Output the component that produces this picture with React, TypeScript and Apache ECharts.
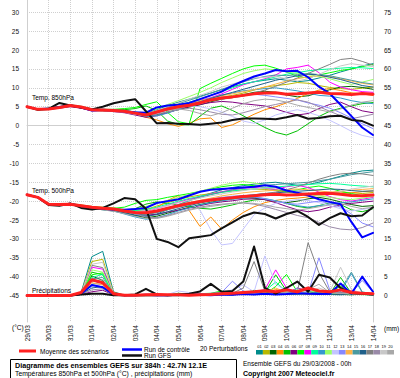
import React, { useEffect, useRef } from 'react';
import * as echarts from 'echarts';

// ---- axes ----
const hours = [0,12,24,36,48,60,72,84,96,108,120,132,144,156,168,180,192,204,216,228,240,252,264,276,288,300,312,324,336,348,360,372,384];
const dateLabels = ['29/03','30/03','31/03','01/04','02/04','03/04','04/04','05/04','06/04','07/04','08/04','09/04','10/04','11/04','12/04','13/04','14/04'];
const leftTicks = [-45,-40,-35,-30,-25,-20,-15,-10,-5,0,5,10,15,20,25,30];
const rightTicks = [0,5,10,15,20,25,30,35,40,45,50,55,60,65,70,75];

// ---- main runs ----
const mean850 = [5.0,4.3,4.4,4.8,5.3,4.9,4.2,4.1,4.0,3.8,3.3,2.8,3.6,4.4,5.0,5.4,6.0,6.8,7.3,7.6,8.0,8.4,8.6,8.7,8.3,8.4,8.6,8.8,8.5,8.4,8.2,8.5,8.3];
const ctrl850 = [5.0,4.3,4.5,4.9,5.4,4.8,4.0,4.2,4.0,3.7,3.5,3.4,4.8,5.3,5.5,6.0,7.0,8.0,9.0,10.6,11.8,13.0,13.8,14.7,14.4,14.5,12.8,10.3,8.5,5.5,2.5,-0.5,-2.5];
const gfs850 = [5.0,4.2,4.4,6.0,5.3,4.8,4.3,5.0,5.9,6.5,7.0,3.8,0.6,0.7,0.5,0.4,0.2,0.5,0.8,1.5,1.9,1.9,1.8,1.7,2.2,2.8,1.8,2.0,2.5,2.6,1.5,1.2,0.0];

const mean500 = [-18.3,-19.0,-20.8,-20.9,-20.8,-21.2,-21.6,-21.9,-22.1,-22.6,-23.0,-23.1,-22.6,-21.9,-21.2,-20.6,-20.1,-19.7,-19.4,-19.1,-18.8,-18.6,-18.3,-18.2,-18.4,-18.3,-18.1,-18.0,-17.9,-18.2,-18.5,-18.6,-18.4];
const ctrl500 = [-18.3,-19.0,-20.9,-21.0,-20.7,-21.3,-21.7,-22.0,-22.2,-22.3,-22.1,-21.8,-20.5,-20.0,-19.5,-18.5,-17.5,-17.0,-16.8,-16.6,-16.4,-16.2,-15.8,-16.2,-17.2,-17.8,-18.5,-19.5,-20.2,-20.8,-25.5,-29.6,-28.4];
const gfs500 = [-18.3,-19.0,-21.0,-21.2,-20.6,-21.8,-22.2,-21.8,-20.6,-19.2,-19.5,-22.0,-30.0,-30.8,-32.2,-29.8,-29.4,-29.0,-27.2,-25.6,-24.0,-23.0,-23.4,-24.6,-23.4,-22.6,-24.2,-26.3,-24.5,-23.2,-24.0,-23.8,-21.6];

const meanPrec = [0,0,0,0,0,0.8,4.2,3.4,0.5,0.1,0.1,0.2,0.3,0.2,0.2,0.1,0.2,0.3,0.5,0.6,0.8,1.0,1.3,1.0,1.5,1.0,2.0,1.2,1.0,1.5,0.8,0.6,0.5];
const ctrlPrec = [0,0,0,0,0,0.5,2.8,2.2,0.3,0.1,0.1,0.2,0.1,0.1,0.2,0.3,0.2,0.1,0.3,0.2,0.4,0.3,0.5,0.3,0.4,0.6,0.5,0.4,0.5,3.2,0.5,5.0,1.0];
const gfsPrec = [0,0,0,0,0,0.3,0.5,0.5,0.1,0.1,0.3,1.8,0.3,0.1,0.2,0.5,1.1,3.1,1.0,1.2,3.7,13.0,2.0,0.5,2.0,3.7,1.0,5.5,4.8,2.0,0.6,0.5,0.3];

// ---- perturbations : 850 hPa ----
const t850_01 = [5.0,4.4,4.6,5.0,5.4,5.0,4.3,4.3,4.2,4.1,3.6,3.2,4.2,5.3,6.2,7.0,7.8,8.6,9.5,10.3,11.0,11.6,12.0,12.4,12.0,11.6,11.9,12.6,13.3,14.2,15.0,15.8,16.4];
const t850_02 = [5.0,4.2,4.3,4.7,5.2,4.7,4.0,3.9,3.8,3.6,3.1,2.6,3.3,4.0,4.6,5.3,6.2,7.0,7.5,8.0,8.6,9.4,10.2,10.6,10.9,11.4,11.2,10.6,10.1,9.8,9.6,9.9,10.2];
const t850_03 = [5.0,4.3,4.5,4.9,5.4,4.9,4.2,4.0,3.9,3.7,3.0,2.4,2.9,3.6,4.2,4.9,5.5,6.3,7.0,7.5,8.2,8.8,9.1,8.8,8.1,7.6,7.9,8.7,9.5,10.2,10.4,10.1,9.6];
const t850_04 = [5.0,4.3,4.5,4.8,5.2,4.8,4.1,4.0,3.9,3.5,3.0,2.2,1.5,0.5,-0.2,0.6,1.8,2.0,-0.5,0.2,1.6,3.0,4.2,5.0,6.0,7.2,8.5,9.4,9.8,9.3,8.7,8.4,8.0];
const t850_05 = [5.0,4.2,4.4,4.7,5.1,4.8,4.1,4.0,4.1,4.2,4.5,5.2,4.0,1.2,0.3,0.2,2.5,4.6,5.2,4.0,2.6,1.0,-0.5,-1.8,-2.5,-1.4,0.5,2.4,3.8,4.6,5.2,5.8,6.1];
const t850_06 = [5.0,4.4,4.3,4.6,5.0,4.6,3.9,3.9,3.7,3.4,2.8,2.2,2.6,3.4,4.3,5.0,5.6,6.1,6.4,6.2,5.8,5.5,5.2,4.4,3.5,2.8,3.2,4.5,5.6,6.2,5.0,3.9,3.4];
const t850_07 = [5.0,4.4,4.6,5.0,5.5,5.1,4.4,4.3,4.3,4.5,4.8,5.6,6.3,3.5,1.0,0.5,9.8,11.2,12.5,13.8,15.0,15.8,16.0,15.2,14.2,13.0,12.6,13.4,14.0,14.6,15.0,15.6,16.2];
const t850_08 = [5.0,4.3,4.4,4.9,5.3,4.9,4.3,4.2,4.1,3.8,3.4,3.0,3.9,4.8,5.5,6.0,6.7,7.4,8.4,9.6,10.8,11.6,12.4,13.4,15.0,15.4,16.0,14.0,11.5,10.2,9.5,9.0,8.8];
const t850_09 = [5.0,4.3,4.5,4.9,5.3,4.9,4.2,4.2,4.1,3.9,3.5,3.1,3.7,4.6,5.4,6.2,7.0,8.0,9.0,10.0,11.0,11.6,12.2,12.9,13.6,14.0,14.5,14.8,15.0,15.2,15.4,15.3,15.1];
const t850_10 = [5.0,4.3,4.4,4.7,5.2,4.8,4.1,4.0,3.9,3.6,3.1,2.4,2.6,3.3,4.3,5.4,6.3,7.3,8.1,8.6,9.2,9.5,9.8,10.0,9.6,9.2,8.6,8.0,7.8,7.3,6.6,6.1,5.8];
const t850_11 = [5.0,4.4,4.5,4.9,5.4,5.0,4.3,4.2,4.1,3.9,3.5,3.4,4.4,5.6,6.6,7.7,8.8,10.0,11.4,12.6,13.8,14.5,15.0,14.8,14.2,13.8,13.5,13.0,12.4,11.6,10.9,11.5,12.2];
const t850_12 = [5.0,4.3,4.4,4.8,5.2,4.8,4.1,4.0,3.8,3.5,3.0,2.6,3.2,4.0,4.8,5.2,5.0,4.4,3.6,2.4,1.2,0.6,1.5,2.8,3.6,4.2,3.5,2.6,1.4,0.0,-1.5,-2.6,-3.2];
const t850_13 = [5.0,4.3,4.4,4.8,5.3,4.9,4.2,4.1,4.0,3.8,3.2,2.7,3.5,4.4,5.2,6.0,6.6,7.0,7.2,7.5,7.9,8.3,8.0,7.6,7.2,6.8,6.0,5.4,4.6,3.4,2.0,0.5,-0.8];
const t850_14 = [5.0,4.4,4.5,4.9,5.3,4.9,4.2,4.2,4.0,3.8,3.4,3.0,3.8,4.6,5.3,6.0,6.6,7.2,7.9,8.4,9.0,9.5,10.2,11.0,11.8,12.4,12.9,13.2,13.0,12.4,11.8,11.2,10.8];
const t850_15 = [5.0,4.3,4.4,4.8,5.3,4.9,4.2,4.1,4.0,3.8,3.4,3.0,3.9,4.9,5.8,6.7,7.6,8.6,9.6,10.6,11.6,12.4,13.0,13.4,13.2,13.5,13.8,13.5,13.2,12.6,12.0,11.4,11.0];
const t850_16 = [5.0,4.3,4.4,4.8,5.2,4.8,4.2,4.1,3.9,3.7,3.2,2.7,3.4,4.2,4.9,5.6,6.3,7.2,8.0,8.8,9.6,10.4,11.2,12.0,12.6,13.2,13.6,13.4,12.8,12.2,11.4,10.6,10.2];
const t850_17 = [5.0,4.3,4.4,4.8,5.3,4.9,4.2,4.1,4.0,3.8,3.3,2.9,3.7,4.5,5.2,5.8,6.2,6.6,7.0,7.4,7.8,8.6,9.4,10.4,11.5,12.6,13.8,15.0,16.2,17.5,17.8,17.0,16.0];
const t850_18 = [5.0,4.3,4.4,4.8,5.2,4.8,4.2,4.1,3.9,3.6,3.1,2.6,3.0,3.6,4.2,4.6,4.2,3.6,3.0,2.8,3.4,4.2,5.0,5.6,6.2,6.8,6.2,5.0,3.8,2.6,1.8,2.4,3.0];
const t850_19 = [5.0,4.3,4.5,4.9,5.3,4.9,4.3,4.2,4.1,3.9,3.5,3.1,4.0,5.0,6.0,7.0,8.0,9.0,10.2,11.0,11.8,12.6,12.8,13.0,12.4,11.8,12.4,13.6,14.8,15.8,16.4,16.0,15.6];
const t850_20 = [5.0,4.4,4.5,4.8,5.2,4.8,4.1,4.0,3.9,3.7,3.2,2.8,3.5,4.1,4.4,4.0,3.2,2.6,3.4,4.6,5.8,6.6,7.0,6.8,6.2,5.4,4.8,4.2,3.6,4.4,5.4,6.2,6.6];

// ---- perturbations : 500 hPa ----
const t500_01 = [-18.3,-19.1,-20.9,-21.0,-20.9,-21.4,-21.9,-22.3,-22.6,-23.2,-23.8,-24.0,-23.4,-22.3,-21.0,-19.8,-18.8,-17.9,-17.0,-16.4,-15.9,-15.5,-15.2,-15.0,-15.4,-15.8,-15.6,-15.0,-14.2,-13.4,-12.6,-12.0,-11.8];
const t500_02 = [-18.3,-18.9,-20.7,-20.8,-20.6,-21.0,-21.4,-21.6,-21.8,-22.2,-22.5,-22.2,-21.3,-20.4,-19.6,-18.9,-18.4,-18.0,-17.6,-17.3,-17.0,-16.8,-16.9,-17.2,-17.6,-18.0,-18.3,-18.1,-17.8,-17.6,-17.8,-18.0,-17.7];
const t500_03 = [-18.3,-19.0,-20.9,-21.1,-21.0,-21.4,-21.8,-22.1,-22.5,-23.1,-23.8,-24.4,-24.0,-23.2,-22.4,-21.6,-20.9,-20.3,-19.8,-19.4,-19.1,-19.2,-19.6,-20.1,-20.4,-20.0,-19.4,-19.0,-19.5,-20.2,-20.9,-21.4,-21.2];
const t500_04 = [-18.3,-19.0,-20.8,-20.9,-20.7,-21.1,-21.5,-21.8,-22.0,-22.4,-22.8,-22.6,-21.8,-19.8,-18.5,-22.5,-26.7,-24.2,-27.4,-25.0,-23.0,-21.5,-20.4,-19.8,-19.4,-19.2,-18.9,-18.5,-18.2,-18.0,-17.8,-17.5,-17.3];
const t500_05 = [-18.3,-19.1,-21.0,-21.1,-20.9,-21.3,-21.7,-22.0,-22.2,-22.5,-22.0,-20.8,-20.2,-20.6,-21.0,-21.4,-21.9,-22.1,-21.6,-21.0,-20.3,-19.7,-19.5,-19.9,-20.6,-21.4,-21.8,-21.2,-20.5,-20.9,-22.3,-22.8,-22.0];
const t500_06 = [-18.3,-19.0,-20.8,-21.0,-20.9,-21.3,-21.7,-22.0,-22.3,-22.8,-23.3,-23.7,-23.5,-22.9,-22.4,-21.8,-21.2,-20.6,-20.2,-19.9,-19.5,-19.4,-19.6,-20.4,-21.4,-22.3,-22.8,-22.4,-21.6,-21.0,-20.6,-20.3,-20.0];
const t500_07 = [-18.3,-19.0,-20.7,-20.8,-20.7,-21.1,-21.5,-21.8,-21.9,-21.6,-20.6,-19.8,-19.6,-19.0,-18.5,-18.0,-17.4,-16.8,-16.2,-15.8,-15.6,-15.9,-16.4,-17.0,-17.4,-17.0,-16.4,-16.0,-16.6,-17.4,-18.0,-18.6,-18.4];
const t500_08 = [-18.3,-19.0,-20.8,-20.9,-20.8,-21.2,-21.6,-21.9,-22.1,-22.5,-22.8,-22.6,-22.0,-21.1,-20.3,-19.5,-18.8,-18.1,-17.5,-17.0,-16.6,-16.4,-16.6,-16.9,-16.2,-15.8,-16.4,-17.6,-18.8,-19.6,-20.0,-19.5,-19.0];
const t500_09 = [-18.3,-18.9,-20.7,-20.9,-20.8,-21.2,-21.6,-21.8,-22.0,-22.3,-22.5,-22.2,-21.6,-20.8,-20.0,-19.3,-18.7,-18.2,-17.7,-17.3,-17.0,-16.8,-16.5,-16.3,-16.0,-15.8,-15.6,-15.4,-15.3,-15.5,-15.8,-16.0,-16.2];
const t500_10 = [-18.3,-19.0,-20.9,-21.0,-20.9,-21.3,-21.8,-22.2,-22.6,-23.4,-24.2,-24.8,-24.4,-23.6,-22.6,-21.8,-21.0,-20.4,-19.9,-19.5,-19.2,-19.0,-19.3,-19.9,-20.6,-21.2,-21.6,-21.2,-20.8,-20.4,-20.2,-19.8,-19.4];
const t500_11 = [-18.3,-19.0,-20.8,-20.9,-20.8,-21.2,-21.6,-21.9,-22.1,-22.4,-22.2,-21.4,-20.6,-19.8,-19.0,-18.2,-17.4,-16.6,-15.8,-15.2,-14.8,-15.2,-15.8,-16.4,-17.0,-17.6,-18.2,-18.6,-19.0,-19.4,-19.6,-19.2,-18.8];
const t500_12 = [-18.3,-19.0,-20.8,-21.0,-20.9,-21.3,-21.7,-22.0,-22.3,-22.8,-23.2,-23.2,-22.6,-21.8,-20.8,-20.2,-22.4,-27.6,-31.6,-31.2,-27.4,-23.6,-21.8,-20.6,-20.0,-19.6,-19.8,-20.4,-21.2,-22.0,-22.6,-22.2,-21.8];
const t500_13 = [-18.3,-19.0,-20.8,-20.9,-20.8,-21.2,-21.6,-21.9,-22.1,-22.6,-23.0,-23.4,-23.0,-22.2,-21.4,-20.6,-19.9,-19.4,-19.0,-18.7,-18.5,-18.8,-19.4,-20.0,-20.6,-20.8,-20.4,-20.0,-20.6,-21.6,-23.4,-25.8,-26.8];
const t500_14 = [-18.3,-19.0,-20.8,-20.9,-20.8,-21.2,-21.6,-21.9,-22.1,-22.5,-22.9,-23.0,-22.5,-21.8,-21.2,-20.4,-19.8,-19.2,-18.6,-18.2,-17.8,-17.5,-17.3,-17.1,-16.9,-16.8,-17.0,-17.3,-17.6,-17.4,-17.1,-16.9,-16.7];
const t500_15 = [-18.3,-19.0,-20.8,-21.0,-20.9,-21.3,-21.7,-22.0,-22.3,-22.8,-23.3,-23.6,-23.0,-22.0,-20.9,-19.9,-19.0,-18.3,-17.6,-17.0,-16.5,-16.1,-15.8,-15.6,-15.4,-15.2,-15.0,-14.6,-14.2,-13.6,-13.0,-12.6,-12.2];
const t500_16 = [-18.3,-19.0,-20.9,-21.0,-20.9,-21.3,-21.8,-22.2,-22.5,-23.1,-23.7,-24.0,-23.6,-22.8,-22.0,-21.2,-20.5,-19.9,-19.4,-19.0,-18.6,-18.3,-18.0,-17.8,-17.6,-17.4,-17.2,-17.0,-16.8,-16.9,-17.2,-17.4,-17.3];
const t500_17 = [-18.3,-19.0,-20.8,-20.9,-20.8,-21.2,-21.6,-21.9,-22.1,-22.6,-23.1,-23.4,-23.0,-22.3,-21.6,-20.9,-20.3,-19.8,-19.4,-19.1,-18.8,-18.4,-18.0,-17.6,-17.0,-16.2,-15.2,-14.2,-13.4,-12.8,-12.6,-12.8,-13.2];
const t500_18 = [-18.3,-19.0,-20.8,-20.9,-20.8,-21.2,-21.6,-21.9,-22.1,-22.7,-23.4,-24.2,-24.4,-23.8,-23.0,-22.2,-21.6,-21.1,-20.8,-20.6,-20.5,-20.8,-21.4,-22.2,-23.0,-23.8,-24.4,-25.6,-26.8,-27.4,-27.6,-27.0,-25.8];
const t500_19 = [-18.3,-19.0,-20.8,-20.9,-20.8,-21.2,-21.6,-21.9,-22.1,-22.5,-22.8,-22.6,-21.9,-21.2,-20.4,-19.8,-19.2,-18.6,-18.1,-17.6,-17.2,-16.8,-16.5,-16.6,-17.0,-17.5,-18.0,-18.4,-18.0,-17.4,-16.8,-16.4,-16.0];
const t500_20 = [-18.3,-19.0,-20.8,-21.0,-20.9,-21.4,-21.9,-22.3,-22.7,-23.3,-24.0,-24.6,-24.6,-24.0,-23.2,-22.4,-21.8,-21.4,-21.0,-20.6,-20.4,-20.6,-21.0,-21.6,-22.0,-22.4,-22.0,-21.5,-21.0,-20.6,-21.4,-22.0,-21.6];

// ---- perturbations : precipitation (mm) ----
const rr_01 = [0,0,0,0,0,0.8,10.3,11.7,1.0,0.1,0,0,0,0,0,0.1,0.3,0.2,0.5,0.3,0.6,0.4,0.8,0.5,0.3,0.4,0.5,0.6,0.3,0.2,0.4,0.3,0.2];
const rr_02 = [0,0,0,0,0,0.6,9.0,9.6,0.8,0.1,0,0,0,0,0.2,0.1,0,0.2,0.3,0.2,0.8,1.2,0.6,0.4,0.6,1.0,0.8,0.5,0.6,0.4,0.3,0.6,0.4];
const rr_03 = [0,0,0,0,0,0.4,5.2,4.0,0.4,0,0,0,0.1,0,0,0.1,0.2,0.1,0.3,0.6,0.4,0.3,1.0,0.5,1.5,0.6,0.4,1.0,0.6,0.3,0.2,0.4,0.3];
const rr_04 = [0,0,0,0,0,0.5,4.0,3.4,0.3,0,0,0,0.2,0,0.3,0.6,0.2,0,0.4,0.6,0.3,0.8,0.5,1.6,1.0,0.6,0.3,0.5,0.8,0.4,1.4,0.5,0.2];
const rr_05 = [0,0,0,0,0,0.6,6.2,5.5,0.5,0,0,0.1,0.3,0.2,0.6,0.4,0.2,0.5,0.8,0.3,0.6,1.4,0.8,5.5,1.2,0.6,0.5,0.9,0.4,4.8,0.6,0.4,0.3];
const rr_06 = [0,0,0,0,0,0.3,1.0,1.4,0.2,0,0,0,0,0,0,0,0.1,0.2,0.3,0.2,0.4,0.3,1.0,0.6,0.4,2.0,1.2,0.5,0.4,1.5,0.6,0.3,0.2];
const rr_07 = [0,0,0,0,0,0.5,5.5,6.0,0.4,0,0,0,0,0.1,0.2,0.3,0.5,0.6,1.2,0.4,0.3,0.6,0.4,2.4,5.6,1.0,0.5,0.4,0.8,2.5,0.5,0.3,0.2];
const rr_08 = [0,0,0,0,0,0.6,7.5,7.0,0.6,0,0,0,0,0,0.1,0.2,0.4,0.3,0.2,0.5,0.8,1.0,1.6,6.8,2.0,0.8,0.6,0.4,0.5,0.8,1.2,0.6,0.4];
const rr_09 = [0,0,0,0,0,0.5,4.8,5.6,0.4,0,0,0,0,0,0.1,0.1,0.3,0.2,0.4,0.3,0.4,0.8,1.2,3.6,1.0,0.4,0.6,0.5,1.0,0.6,0.4,0.3,0.2];
const rr_10 = [0,0,0,0,0,0.4,3.0,3.6,0.3,0,0,0,0,0,0,0,0.2,0.3,0.6,0.3,0.5,0.6,0.4,0.8,0.6,0.5,1.2,0.8,0.6,1.0,5.8,0.8,0.4];
const rr_11 = [0,0,0,0,0,0.5,6.8,6.2,0.6,0.1,0,0,0,0,0,0.1,0.2,0.4,0.3,0.2,0.6,0.4,0.3,1.0,0.6,0.4,0.8,1.4,0.6,0.5,0.4,0.2,0.3];
const rr_12 = [0,0,0,0,0,0.3,2.4,2.0,0.2,0,0,0,0,0.3,1.2,0.8,0.5,0.2,0.4,1.6,2.8,1.0,10.5,3.0,1.2,0.6,0.5,0.4,1.2,0.6,0.8,0.4,0.3];
const rr_13 = [0,0,0,0,0,0.4,2.6,3.0,0.3,0,0,0,0,0,0.1,0.2,0.3,0.6,0.8,3.8,1.2,0.5,0.3,0.6,0.5,2.0,0.6,10.0,1.5,0.4,0.6,4.0,1.0];
const rr_14 = [0,0,0,0,0,0.4,3.4,2.8,0.3,0,0,0,0,0,0.2,0.1,0.2,0.4,0.3,0.6,0.4,0.3,0.8,2.0,0.8,0.6,0.4,0.5,0.9,1.6,0.6,0.4,0.3];
const rr_15 = [0,0,0,0,0,0.5,4.4,4.8,0.4,0,0,0,0,0,0,0.1,0.3,0.2,0.4,0.8,0.6,0.4,0.5,0.6,0.8,0.6,0.4,1.2,0.8,1.6,6.2,1.0,0.4];
const rr_16 = [0,0,0,0,0,0.3,2.0,2.4,0.2,0,0,0,0,0,0,0,0.1,0.2,0.3,0.2,0.5,0.6,0.4,0.5,0.3,0.4,0.6,0.5,0.4,0.3,0.5,0.4,0.2];
const rr_17 = [0,0,0,0,0,0.6,8.0,7.4,0.6,0,0,0,0,0,0.1,0.2,0.4,0.5,0.3,0.6,2.0,9.0,1.2,0.6,0.8,1.0,14.0,6.0,1.0,0.8,0.6,0.4,0.3];
const rr_18 = [0,0,0,0,0,0.3,1.5,1.8,0.2,0,0,0,0,0,0,0.1,0.2,0.3,0.2,0.4,0.6,0.4,0.3,0.5,0.4,0.6,0.5,0.4,0.8,0.6,0.4,0.3,0.2];
const rr_19 = [0,0,0,0,0,0.5,8.3,8.8,0.6,0,0,0,0,0,0.2,0.4,0.3,0.2,0.5,0.4,0.8,0.6,0.5,0.8,1.6,0.8,1.2,2.0,1.0,7.5,1.6,0.6,0.3];
const rr_20 = [0,0,0,0,0,0.4,3.8,4.2,0.4,0,0,0,0,0,0.1,0.3,0.4,0.2,0.3,0.6,0.5,0.8,0.4,0.6,0.8,1.2,1.6,3.0,0.8,0.6,0.5,0.4,0.2];

const pertNames = ['01','02','03','04','05','06','07','08','09','10','11','12','13','14','15','16','17','18','19','20'];
const pertColors = ['#008b8b','#b8b800','#006400','#ff8c00','#00c000','#800080','#00ff00','#ff00ff','#00ff99','#3399cc','#99ff66','#c4c4ff','#8888ff','#ffb347','#4a9aa0','#20608a','#808080','#9a8aa8','#c8c8c8','#a8a8a8'];

const pert850 = [t850_01,t850_02,t850_03,t850_04,t850_05,t850_06,t850_07,t850_08,t850_09,t850_10,t850_11,t850_12,t850_13,t850_14,t850_15,t850_16,t850_17,t850_18,t850_19,t850_20];
const pert500 = [t500_01,t500_02,t500_03,t500_04,t500_05,t500_06,t500_07,t500_08,t500_09,t500_10,t500_11,t500_12,t500_13,t500_14,t500_15,t500_16,t500_17,t500_18,t500_19,t500_20];
const pertPrec = [rr_01,rr_02,rr_03,rr_04,rr_05,rr_06,rr_07,rr_08,rr_09,rr_10,rr_11,rr_12,rr_13,rr_14,rr_15,rr_16,rr_17,rr_18,rr_19,rr_20];

const FONT = '"Liberation Sans", Arial, sans-serif';

function lineSeries(name: string, vals: number[], color: string, width: number, yAxisIndex: number, z: number) {
  return {
    type: 'line',
    name,
    data: vals.map((v, i) => [hours[i], v]),
    yAxisIndex,
    symbol: 'none',
    showSymbol: false,
    silent: true,
    z,
    lineStyle: { color, width, join: 'round', cap: 'round' },
    itemStyle: { color },
    emphasis: { disabled: true },
    animation: false,
  };
}

function txt(text: string, x: number, y: number, size: number, bold = false, align = 'left') {
  return {
    type: 'text',
    x,
    y,
    silent: true,
    z: 50,
    style: {
      text,
      fill: '#000',
      font: `${bold ? 'bold ' : ''}${size}px ${FONT}`,
      fontSize: size,
      fontFamily: FONT,
      fontWeight: bold ? 'bold' : 'normal',
      align,
      textAlign: align,
      verticalAlign: 'middle',
      textVerticalAlign: 'middle',
    },
  };
}

export default function App() {
  const ref = useRef<HTMLDivElement>(null);
  useEffect(() => {
    if (!ref.current) return;
    const chart = echarts.init(ref.current, null, { renderer: 'svg' });

    const series: any[] = [];
    pert850.forEach((d, i) => series.push(lineSeries('P' + pertNames[i] + ' 850', d, pertColors[i], 1, 0, 2)));
    pert500.forEach((d, i) => series.push(lineSeries('P' + pertNames[i] + ' 500', d, pertColors[i], 1, 0, 2)));
    pertPrec.forEach((d, i) => series.push(lineSeries('P' + pertNames[i] + ' RR', d, pertColors[i], 1, 1, 2)));
    series.push(lineSeries('Run de contrôle 850', ctrl850, '#0000ff', 2, 0, 3));
    series.push(lineSeries('Run de contrôle 500', ctrl500, '#0000ff', 2, 0, 3));
    series.push(lineSeries('Run de contrôle RR', ctrlPrec, '#0000ff', 2, 1, 3));
    series.push(lineSeries('Run GFS 850', gfs850, '#111111', 2, 0, 4));
    series.push(lineSeries('Run GFS 500', gfs500, '#111111', 2, 0, 4));
    series.push(lineSeries('Run GFS RR', gfsPrec, '#111111', 2, 1, 4));
    series.push(lineSeries('Moyenne 850', mean850, '#ff2020', 3, 0, 5));
    series.push(lineSeries('Moyenne 500', mean500, '#ff2020', 3, 0, 5));
    series.push(lineSeries('Moyenne RR', meanPrec, '#ff2020', 3, 1, 5));

    const graphics: any[] = [
      txt('Temp. 850hPa', 32, 97, 6.5),
      txt('Temp. 500hPa', 32, 190, 6.5),
      txt('Précipitations', 32, 290, 6.5),
      txt('(°C)', 12, 327, 6.5),
      txt('(mm)', 384, 328, 6.5),
      { type: 'line', silent: true, shape: { x1: 19, y1: 351, x2: 36, y2: 351 }, style: { stroke: '#ff2020', lineWidth: 3 } },
      txt('Moyenne des scénarios', 40, 351, 6.5),
      { type: 'line', silent: true, shape: { x1: 122, y1: 349.5, x2: 142, y2: 349.5 }, style: { stroke: '#0000ff', lineWidth: 2.5 } },
      txt('Run de contrôle', 144, 349, 6.5),
      { type: 'line', silent: true, shape: { x1: 122, y1: 355.5, x2: 142, y2: 355.5 }, style: { stroke: '#111', lineWidth: 2.5 } },
      txt('Run GFS', 144, 355.5, 6.5),
      txt('20 Perturbations', 200, 348, 6.5),
      { type: 'rect', silent: true, shape: { x: 10.5, y: 359.5, width: 226, height: 20 }, style: { fill: '#fff', stroke: '#000', lineWidth: 1 } },
      txt('Diagramme des ensembles GEFS sur 384h : 42.7N 12.1E', 15, 365, 7.2, true),
      txt('Températures 850hPa et 500hPa (°C) , précipitations (mm)', 15, 373.5, 6.8),
      txt('Ensemble GEFS du 29/03/2008 - 00h', 243, 363, 6.5),
      txt('Copyright 2007 Meteociel.fr', 243, 373.5, 7, true),
    ];
    pertNames.forEach((n, i) => {
      const x = 256 + i * 6.9;
      graphics.push({ type: 'rect', silent: true, shape: { x, y: 350, width: 6.9, height: 4.5 }, style: { fill: pertColors[i] } });
      graphics.push({
        type: 'text', silent: true, x: x + 3.45, y: 346.5,
        style: { text: n, fill: '#000', font: `4px ${FONT}`, fontSize: 4, align: 'center', textAlign: 'center', verticalAlign: 'middle', textVerticalAlign: 'middle' },
      });
    });

    const gridColor = '#cfcfcf';
    chart.setOption({
      animation: false,
      backgroundColor: '#ffffff',
      grid: { left: 27, right: 27, top: 0, bottom: 56, containLabel: false },
      xAxis: {
        type: 'value',
        min: 0,
        max: 384,
        interval: 24,
        axisLine: { show: true, lineStyle: { color: gridColor } },
        axisTick: { show: false },
        splitLine: { show: true, lineStyle: { color: gridColor, type: 'dotted', width: 1 } },
        axisLabel: {
          rotate: 90,
          margin: 3,
          fontSize: 6.5,
          fontFamily: FONT,
          color: '#111',
          showMinLabel: true,
          showMaxLabel: true,
          formatter: (v: number) => dateLabels[Math.round(v / 24)] ?? '',
        },
      },
      yAxis: [
        {
          type: 'value',
          position: 'left',
          min: -52,
          max: 33.25,
          axisLine: { show: true, lineStyle: { color: gridColor } },
          axisTick: { show: false, customValues: leftTicks },
          axisLabel: { customValues: leftTicks, fontSize: 6.5, fontFamily: FONT, color: '#111', margin: 8 },
          splitLine: { show: true, lineStyle: { color: gridColor, type: 'dotted', width: 1 } },
        },
        {
          type: 'value',
          position: 'right',
          min: -7,
          max: 78.25,
          axisLine: { show: true, lineStyle: { color: gridColor } },
          axisTick: { show: false, customValues: rightTicks },
          axisLabel: { customValues: rightTicks, fontSize: 6.5, fontFamily: FONT, color: '#111', margin: 11 },
          splitLine: { show: false },
        },
      ],
      graphic: graphics,
      series,
    });
    return () => chart.dispose();
  }, []);
  return <div ref={ref} style={{ position: 'fixed', left: 0, top: 0, width: 400, height: 378, background: '#fff' }} />;
}
